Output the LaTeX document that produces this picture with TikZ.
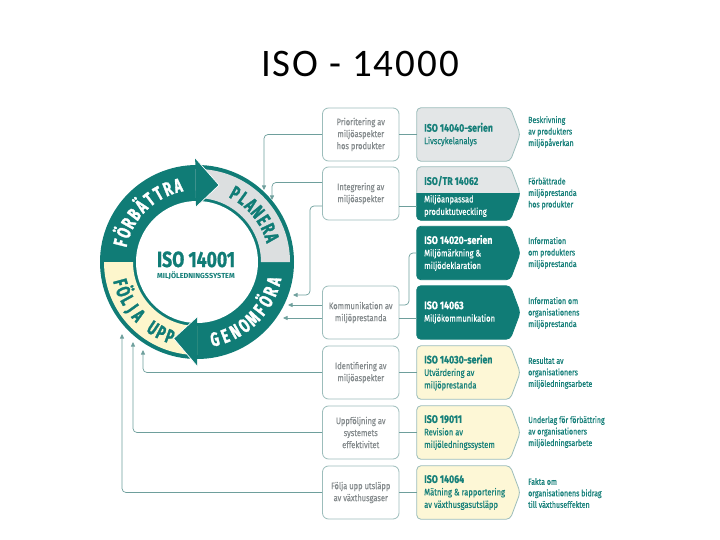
\documentclass[tikz,border=0pt]{standalone}
\usepackage{fontspec}
\setmainfont{Fira Sans}
\newfontfamily\cond[FakeStretch=0.8,FakeBold=0.5]{Fira Sans}
\newfontfamily\ringfont[FakeStretch=0.68,FakeBold=1.5]{Fira Sans}
\newfontfamily\isofont[FakeStretch=0.8,FakeBold=0.8]{Fira Sans}
\newfontfamily\titlefont[LetterSpace=5]{Carlito}
\newcommand\isohead{\cond\bfseries\fontsize{11}{12.5}\selectfont}
\usetikzlibrary{arrows.meta,calc}
\definecolor{isoteal}{HTML}{107C76}
\definecolor{ringgray}{HTML}{DCDFE0}
\definecolor{ringyellow}{HTML}{FDF6CC}
\definecolor{boxgray}{HTML}{E3E6E7}
\definecolor{boxyellow}{HTML}{FDF7D6}
\definecolor{boxborder}{HTML}{9CBDBB}
\definecolor{linecol}{HTML}{6E9F9C}
\definecolor{txtgray}{HTML}{868C8E}
\definecolor{txtteal}{HTML}{17807A}
\begin{document}
\begin{tikzpicture}[x=1pt,y=1pt,
  lbox/.style={draw=boxborder, line width=0.8pt, rounded corners=6pt, minimum width=76.5pt, minimum height=53pt, align=center, text=txtgray, font=\cond\fontsize{9.4}{12}\selectfont, inner sep=0pt},
  mbox/.style={minimum width=103pt, minimum height=53pt, inner sep=0pt},
  mtext/.style={anchor=west, align=left, inner sep=0pt, font=\cond\fontsize{9.5}{12.5}\selectfont},
  rtext/.style={anchor=west, align=left, inner sep=0pt, text=txtteal, font=\cond\fontsize{8.8}{11.5}\selectfont},
  ringtxt/.style={anchor=base, inner sep=0pt, font=\ringfont\bfseries\fontsize{19.5}{19.5}\selectfont},
  conn/.style={draw=linecol, line width=0.7pt, rounded corners=4pt, -{Triangle[length=4.5pt,width=4pt]}},
  link/.style={draw=linecol, line width=0.7pt, rounded corners=4pt},
  hb/.style={font=\isohead}
]
\useasboundingbox (0,0) rectangle (720,-540);
\fill[white] (0,0) rectangle (720,-540);

\node[font=\titlefont\fontsize{39}{48}\selectfont, anchor=base, inner sep=0pt] (title) at (360,-77) {ISO - 14000};

% ---------- ring ----------
\coordinate (C) at (197,-262);
\fill[isoteal] (C) circle[radius=97];
\fill[white] (C) circle[radius=61];
\fill[ringgray] ($(C)+(0:64)$) arc[start angle=0,end angle=91,radius=64] -- ($(C)+(91:93)$) arc[start angle=91,end angle=0,radius=93] -- cycle;
\fill[ringyellow] ($(C)+(180:64)$) arc[start angle=180,end angle=270,radius=64] -- ($(C)+(270:93)$) arc[start angle=270,end angle=180,radius=93] -- cycle;
\fill[isoteal] ($(C)+(91:55)$) -- ($(C)+(91:104)$) -- ($(C)+(74:80)$) -- cycle;
\fill[isoteal] ($(C)+(-90:55)$) -- ($(C)+(-90:104)$) -- ($(C)+(-107:80)$) -- cycle;
\draw[white, line width=0.7pt] ($(C)+(91:104)$) -- ($(C)+(74:80)$) -- ($(C)+(91:55)$);
\draw[white, line width=0.7pt] ($(C)+(-90:104)$) -- ($(C)+(-107:80)$) -- ($(C)+(-90:55)$);

\foreach \ch/\a [count=\i] in {F/166,Ö/158.25,R/150.5,B/142.75,Ä/135,T/127.25,T/119.5,R/111.75,A/104}
  \node[ringtxt, text=white, rotate=\a-90] (fb\i) at ($(C)+(\a:72)$) {\ch};
\foreach \ch/\a [count=\i] in {P/61,L/53.8,A/46.7,N/39.5,E/32.3,R/25.2,A/18}
  \node[ringtxt, text=isoteal, rotate=\a-90] (pl\i) at ($(C)+(\a:72)$) {\ch};
\foreach \ch/\a [count=\i] in {G/-77,E/-69.1,N/-61.25,O/-53.4,M/-45.5,F/-37.6,Ö/-29.75,R/-21.9,A/-14}
  \node[ringtxt, text=white, rotate=\a+90] (ge\i) at ($(C)+(\a:86)$) {\ch};
\foreach \ch/\a [count=\i] in {F/195,Ö/201.9,L/208.75,J/215.6,A/222.5,U/236.25,P/243.1,P/250}
  \node[ringtxt, text=isoteal, rotate=\a+90] (fu\i) at ($(C)+(\a:86)$) {\ch};

\node[anchor=base, text=isoteal, font=\isofont\bfseries\fontsize{22}{22}\selectfont, inner sep=0pt] (iso) at (196,-267) {ISO 14001};
\node[anchor=base, text=isoteal, font=\bfseries\fontsize{7.3}{7.3}\selectfont, inner sep=0pt] (mls) at (196,-278.5) {MILJÖLEDNINGSSYSTEM};

% ---------- left boxes ----------
\node[lbox] (L1) at (360.75,-134.5) {Prioritering av\\miljöaspekter\\hos produkter};
\node[lbox] (L2) at (360.75,-193.5) {Integrering av\\miljöaspekter};
\node[lbox] (L4) at (360.75,-312.5) {Kommunikation av\\miljöprestanda};
\node[lbox] (L5) at (360.75,-372.5) {Identifiering av\\miljöaspekter};
\node[lbox] (L6) at (360.75,-432.5) {Uppföljning av\\systemets\\effektivitet};
\node[lbox] (L7) at (360.75,-492.5) {Följa upp utsläpp\\av växthusgaser};

% ---------- middle boxes ----------
\node[mbox] (M1) at (468.5,-134.5) {};
\node[mbox] (M2) at (468.5,-193.5) {};
\node[mbox] (M3) at (468.5,-253) {};
\node[mbox] (M4) at (468.5,-312.5) {};
\node[mbox] (M5) at (468.5,-372.5) {};
\node[mbox] (M6) at (468.5,-432.5) {};
\node[mbox] (M7) at (468.5,-492.5) {};
\foreach \m/\f/\d in {M1/boxgray/boxborder,M2/boxgray/boxborder,M3/isoteal/isoteal,M4/isoteal/isoteal,M5/boxyellow/boxborder,M6/boxyellow/boxborder,M7/boxyellow/boxborder}
  \filldraw[fill=\f, draw=\d, line width=0.8pt, rounded corners=4pt] (\m.north west) -- ([xshift=-10pt]\m.north east) -- (\m.east) -- ([xshift=-10pt]\m.south east) -- (\m.south west) -- cycle;
\begin{scope}
  \clip (400,-193.5) rectangle (530,-230);
  \filldraw[fill=isoteal, draw=isoteal, line width=0.8pt, rounded corners=4pt] (M2.north west) -- ([xshift=-10pt]M2.north east) -- (M2.east) -- ([xshift=-10pt]M2.south east) -- (M2.south west) -- cycle;
\end{scope}

\node[mtext, text=txtteal] (MT1) at (424,-134.5) {{\isohead ISO 14040-serien}\\Livscykelanalys};
\node[mtext, text=txtteal, hb] (MT2a) at (424,-181) {ISO/TR 14062};
\node[mtext, text=white] (MT2b) at (424,-206) {Miljöanpassad\\produktutveckling};
\node[mtext, text=white] (MT3) at (424,-253) {{\isohead ISO 14020-serien}\\Miljömärkning \&\\miljödeklaration};
\node[mtext, text=white] (MT4) at (424,-312.5) {{\isohead ISO 14063}\\Miljökommunikation};
\node[mtext, text=txtteal] (MT5) at (424,-372.5) {{\isohead ISO 14030-serien}\\Utvärdering av\\miljöprestanda};
\node[mtext, text=txtteal] (MT6) at (424,-432.5) {{\isohead ISO 19011}\\Revision av\\miljöledningssystem};
\node[mtext, text=txtteal] (MT7) at (424,-492.5) {{\isohead ISO 14064}\\Mätning \& rapportering\\av växthusgasutsläpp};

% ---------- right texts ----------
\node[rtext] (R1) at (528,-132) {Beskrivning\\av produkters\\miljöpåverkan};
\node[rtext] (R2) at (528,-193.5) {Förbättrade\\miljöprestanda\\hos produkter};
\node[rtext] (R3) at (528,-253) {Information\\om produkters\\miljöprestanda};
\node[rtext] (R4) at (528,-313) {Information om\\organisationens\\miljöprestanda};
\node[rtext] (R5) at (528,-373) {Resultat av\\organisationers\\miljöledningsarbete};
\node[rtext] (R6) at (528,-432) {Underlag för förbättring\\av organisationers\\miljöledningsarbete};
\node[rtext] (R7) at (528,-493) {Fakta om\\organisationens bidrag\\till växthuseffekten};

% ---------- connectors ----------
\coordinate (t1) at (264,-190);
\coordinate (t2) at (272,-200);
\coordinate (k3) at (310,-295);
\coordinate (t3) at (293,-295);
\coordinate (t4) at (288,-305);
\coordinate (t5) at (283,-318);
\coordinate (t6) at (143,-350);
\coordinate (t7) at (133,-342);
\coordinate (t8) at (122,-334);
\coordinate (k4) at (409,-305);

\draw[conn] (L1.west) -| (t1);
\draw[conn] ([yshift=11pt]L2.west) -| (t2);
\draw[conn] ([yshift=-12.5pt]L2.west) -| (k3) -- (t3);
\draw[conn] ([yshift=7.5pt]L4.west) -- (t4);
\draw[conn] ([yshift=-5.5pt]L4.west) -- (t5);
\draw[conn] (L5.west) -| (t6);
\draw[conn] (L6.west) -| (t7);
\draw[conn] (L7.west) -| (t8);

\draw[link] (L1.east) -- (M1.west);
\draw[link] ([yshift=-12.5pt]L2.east) -- ([yshift=-12.5pt]M2.west);
\draw[link] (M3.west) -| (k4) -- ([yshift=7.5pt]L4.east);
\draw[link] ([yshift=-5.5pt]L4.east) -- ([yshift=-5.5pt]M4.west);
\draw[link] (L5.east) -- (M5.west);
\draw[link] (L6.east) -- (M6.west);
\draw[link] (L7.east) -- (M7.west);
\end{tikzpicture}
\end{document}
